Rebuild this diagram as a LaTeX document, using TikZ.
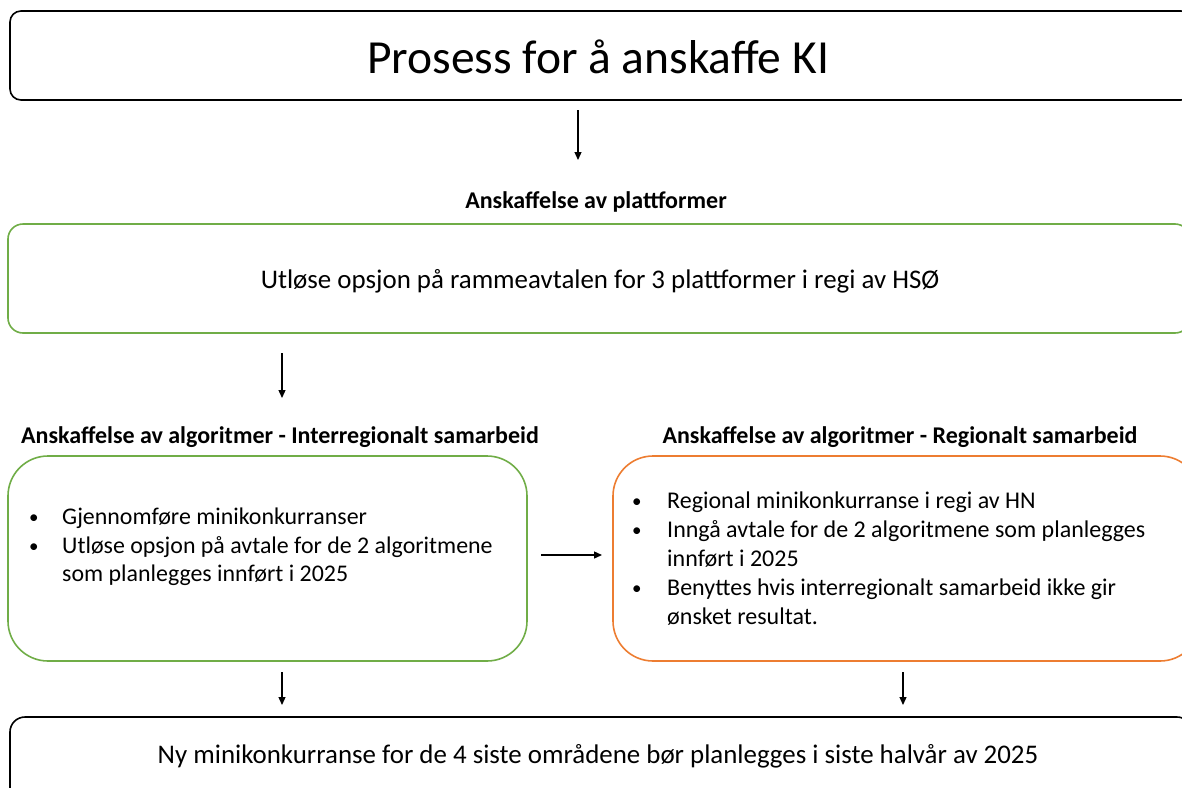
\documentclass[tikz,border=0pt]{standalone}
\usepackage{fontspec}
\setmainfont{Carlito}
\usetikzlibrary{arrows.meta}
\definecolor{offgreen}{HTML}{70AD47}
\definecolor{offorange}{HTML}{ED7D31}
\newcommand{\bulA}{\makebox[33pt][l]{\raisebox{1pt}{\fontsize{19}{19}\selectfont •}}}
\newcommand{\bulB}{\makebox[35pt][l]{\raisebox{1pt}{\fontsize{19}{19}\selectfont •}}}
\tikzset{
  box/.style={draw, line width=1.6pt},
  arr/.style={line width=1.3pt, -{Triangle[length=8pt,width=7pt]}},
  head/.style={font=\fontsize{24}{28}\selectfont\bfseries, inner sep=0pt},
  bodytext/.style={font=\fontsize{26.9}{32}\selectfont, inner sep=0pt},
  bullets/.style={inner sep=0pt, align=left, anchor=north west},
}
\begin{document}
\begin{tikzpicture}[x=1pt,y=-1pt]
\useasboundingbox (0,0) rectangle (1182,787);
\clip (0,0) rectangle (1182,787);
% boxes
\draw[box, rounded corners=11pt] (10,11) rectangle (1192,100);
\node[bodytext, font=\fontsize{47.5}{54}\selectfont] (title) at (598,57) {Prosess for å anskaffe KI};

\node[head] (h1) at (596,202) {Anskaffelse av plattformer};
\draw[box, draw=offgreen, rounded corners=15pt] (8,224) rectangle (1190,333);
\node[bodytext] (t1) at (600,281) {Utløse opsjon på rammeavtalen for 3 plattformer i regi av HSØ};

\node[head] (h2) at (280,437) {Anskaffelse av algoritmer - Interregionalt samarbeid};
\node[head] (h3) at (900,437) {Anskaffelse av algoritmer - Regionalt samarbeid};

\draw[box, draw=offgreen, rounded corners=40pt] (8,456) rectangle (527,661);
\draw[box, draw=offorange, rounded corners=40pt] (613,456) rectangle (1200,661);

\node[bullets, font=\fontsize{23.9}{28.5}\selectfont] (l1) at (29,508) {\bulA Gjennomføre minikonkurranser\\
\bulA Utløse opsjon på avtale for de 2 algoritmene\\
\hspace*{33pt}som planlegges innført i 2025};

\node[bullets, font=\fontsize{24}{29}\selectfont] (r1) at (632,492) {\bulB Regional minikonkurranse i regi av HN\\
\bulB Inngå avtale for de 2 algoritmene som planlegges\\
\hspace*{35pt}innført i 2025\\
\bulB Benyttes hvis interregionalt samarbeid ikke gir\\
\hspace*{35pt}ønsket resultat.};

\draw[box, rounded corners=15pt] (10,717) rectangle (1192,810);
\node[bodytext] (t2) at (598,756) {Ny minikonkurranse for de 4 siste områdene bør planlegges i siste halvår av 2025};

% arrow endpoints
\coordinate (a1s) at (578,110); \coordinate (a1e) at (578,160);
\coordinate (a2s) at (282,353); \coordinate (a2e) at (282,398);
\coordinate (a3s) at (541,555); \coordinate (a3e) at (602,555);
\coordinate (a4s) at (282,672); \coordinate (a4e) at (282,705);
\coordinate (a5s) at (903,672); \coordinate (a5e) at (903,705);
\draw[arr] (a1s) -- (a1e);
\draw[arr] (a2s) -- (a2e);
\draw[arr] (a3s) -- (a3e);
\draw[arr] (a4s) -- (a4e);
\draw[arr] (a5s) -- (a5e);
\end{tikzpicture}
\end{document}
